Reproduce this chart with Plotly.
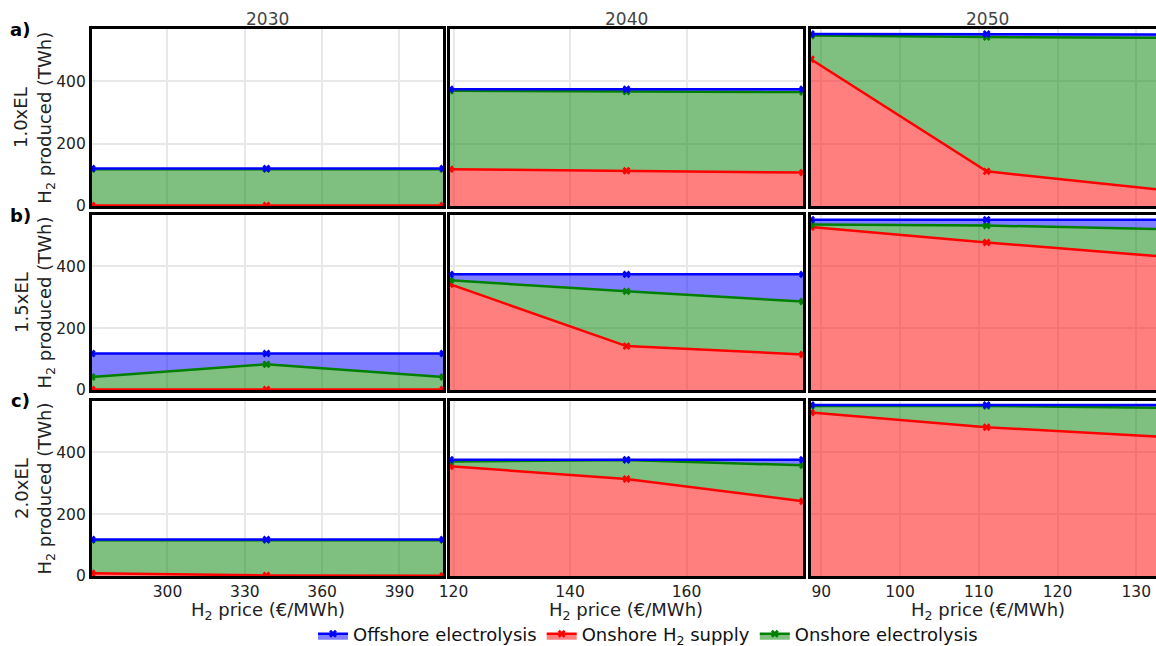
import plotly.graph_objects as go

# ---------------- data ----------------
years = ["2030", "2040", "2050"]
levels = ["1.0xEL", "1.5xEL", "2.0xEL"]
row_tags = ["a)", "b)", "c)"]

# H2 price scenarios (€/MWh) per year
price_2030 = [270.6, 338.4, 407.0]
price_2040 = [119.4, 149.7, 180.0]
price_2050 = [88.7, 111.0, 133.6]

# Onshore H2 supply (TWh) : [2030, 2040, 2050] per electrolysis level
onshore_supply_10 = [[2, 2, 2], [118, 113, 107], [470, 111, 51]]
onshore_supply_15 = [[2, 2, 2], [342, 142, 115], [527, 477, 431]]
onshore_supply_20 = [[9, 2, 1], [355, 314, 242], [529, 481, 450]]

# Onshore electrolysis (TWh)
onshore_elec_10 = [[116, 116, 116], [251, 254, 258], [76, 430, 488]]
onshore_elec_15 = [[40, 81, 40], [13, 177, 171], [8, 55, 89]]
onshore_elec_20 = [[107, 114, 115], [15, 61, 116], [21, 69, 94]]

# Offshore electrolysis (TWh)
offshore_elec_10 = [[2, 2, 2], [5, 7, 9], [5, 10, 10]]
offshore_elec_15 = [[76, 35, 76], [19, 55, 88], [16, 19, 31]]
offshore_elec_20 = [[2, 2, 2], [6, 1, 18], [3, 3, 9]]

# axis settings
x_ticks_2030 = [300, 330, 360, 390]
x_ticks_2040 = [120, 140, 160]
x_ticks_2050 = [90, 100, 110, 120, 130]
y_ticks = [0, 200, 400]
y_max = 566
x_range_2050_visible_max = 132.5

prices = [price_2030, price_2040, price_2050]
supply = [onshore_supply_10, onshore_supply_15, onshore_supply_20]
elec = [onshore_elec_10, onshore_elec_15, onshore_elec_20]
offsh = [offshore_elec_10, offshore_elec_15, offshore_elec_20]
xticks = [x_ticks_2030, x_ticks_2040, x_ticks_2050]

# ---------------- layout geometry (pixels) ----------------
W, H = 1156, 646
col_px = [(91.7, 443.3), (450.0, 803.0), (811.0, 1156.0)]
col_center_px = [267.5, 626.5, 987.5]
row_px = [(29.3, 206.0), (215.0, 390.0), (401.0, 576.0)]

FONT = "DejaVu Sans"

series_style = [
    # name, color, fill, rank
    ("Onshore H<sub>2</sub> supply", "red", "rgba(255,0,0,0.5)", 2),
    ("Onshore electrolysis", "green", "rgba(0,128,0,0.5)", 3),
    ("Offshore electrolysis", "blue", "rgba(0,0,255,0.5)", 1),
]

fig = go.Figure()
layout_axes = {}
for r in range(3):
    for c in range(3):
        idx = r * 3 + c + 1
        xa = "x" if idx == 1 else f"x{idx}"
        ya = "y" if idx == 1 else f"y{idx}"
        vals = [supply[r][c], elec[r][c], offsh[r][c]]
        for (name, col, fillc, rank), v in zip(series_style, vals):
            fig.add_trace(go.Scatter(
                x=prices[c], y=v, name=name, xaxis=xa, yaxis=ya,
                stackgroup=f"g{idx}", mode="lines+markers",
                line=dict(color=col, width=2.5),
                marker=dict(symbol="x", size=7, color=col),
                fillcolor=fillc, legendgroup=name, legendrank=rank,
                showlegend=(idx == 1),
            ))
        x0, x1 = col_px[c]
        y0, y1 = row_px[r]
        if c == 2:
            xr = [prices[c][0], x_range_2050_visible_max]
        else:
            xr = [prices[c][0], prices[c][-1]]
        layout_axes[f"xaxis{'' if idx == 1 else idx}"] = dict(
            domain=[x0 / W, x1 / W], range=xr, anchor=ya,
            tickvals=xticks[c], showticklabels=(r == 2),
            showgrid=True, gridcolor="#e8e8e8", gridwidth=2, zeroline=False,
            showline=True, linecolor="black", linewidth=2.5, mirror=True,
            ticks="", tickfont=dict(size=15.5, color="#222", family=FONT),
        )
        layout_axes[f"yaxis{'' if idx == 1 else idx}"] = dict(
            domain=[1 - y1 / H, 1 - y0 / H], range=[0, y_max], anchor=xa,
            tickvals=y_ticks, showticklabels=(c == 0),
            showgrid=True, gridcolor="#e8e8e8", gridwidth=2, zeroline=False,
            showline=True, linecolor="black", linewidth=2.5, mirror=(c != 2),
            ticks="", tickfont=dict(size=15.5, color="#222", family=FONT),
        )

annotations = []
for c, yr in enumerate(years):
    annotations.append(dict(text=yr, x=col_center_px[c] / W, y=1 - 19 / H,
                            xref="paper", yref="paper", showarrow=False,
                            xanchor="center", yanchor="middle",
                            font=dict(size=17, color="#444", family=FONT)))
    annotations.append(dict(text="H<sub>2</sub> price (€/MWh)", x=col_center_px[c] / W,
                            y=1 - 611 / H, xref="paper", yref="paper", showarrow=False,
                            xanchor="center", yanchor="middle",
                            font=dict(size=18, color="#222", family=FONT)))
for r in range(3):
    cy = (row_px[r][0] + row_px[r][1]) / 2
    annotations.append(dict(text=f"{levels[r]}<br>H<sub>2</sub> produced (TWh)",
                            x=34 / W, y=1 - cy / H, xref="paper", yref="paper",
                            xanchor="center", yanchor="middle",
                            textangle=-90, showarrow=False,
                            font=dict(size=18, color="#222", family=FONT)))
    annotations.append(dict(text=f"<b>{row_tags[r]}</b>", x=20 / W,
                            y=1 - (row_px[r][0] + 0) / H, xref="paper", yref="paper",
                            xanchor="center", yanchor="middle",
                            showarrow=False,
                            font=dict(size=18, color="black", family=FONT)))

fig.update_layout(
    width=W, height=H,
    margin=dict(l=0, r=0, t=0, b=0, autoexpand=False),
    paper_bgcolor="white", plot_bgcolor="white",
    font=dict(family=FONT, size=15, color="#222"),
    showlegend=True,
    legend=dict(orientation="h", x=648 / W, xanchor="center", y=1 - 634 / H,
                yanchor="middle", font=dict(size=18, color="#111", family=FONT),
                bgcolor="rgba(0,0,0,0)"),
    annotations=annotations,
    **layout_axes,
)

fig.write_html(
    "out.html",
    config={"displayModeBar": False},
    post_script="document.body.style.margin='0';document.body.style.overflow='hidden';",
)
